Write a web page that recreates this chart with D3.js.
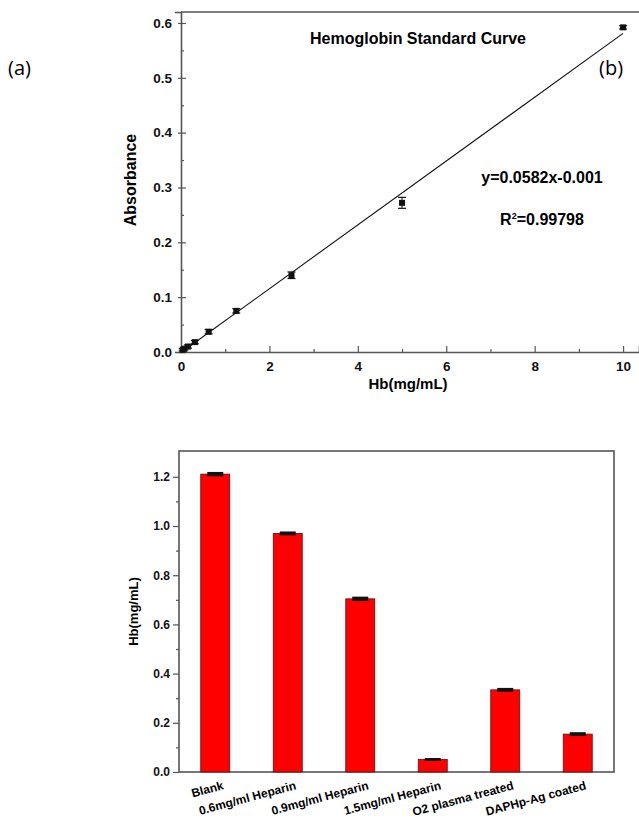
<!DOCTYPE html>
<html>
<head>
<meta charset="utf-8">
<script src="https://cdn.jsdelivr.net/npm/d3@7"></script>
<style>
  body { margin: 0; background: #fff; }
  svg { display: block; }
  text { font-family: "Liberation Sans", Arial, sans-serif; }
</style>
</head>
<body>
<div id="chart"></div>
<script>
// standard curve data
const concentrations = [0.039, 0.078, 0.156, 0.3125, 0.625, 1.25, 2.5, 5, 10];
const absorbance = [0.004, 0.006, 0.010, 0.018, 0.037, 0.075, 0.140, 0.272, 0.592];
const absError = [0.002, 0.002, 0.003, 0.003, 0.004, 0.004, 0.006, 0.010, 0.003];
const fitSlope = 0.0582, fitIntercept = -0.001;
const xTicks1 = [0, 2, 4, 6, 8, 10];
const yTicks1 = [0.0, 0.1, 0.2, 0.3, 0.4, 0.5, 0.6];

// bar chart data
const samples = ["Blank", "0.6mg/ml Heparin", "0.9mg/ml Heparin", "1.5mg/ml Heparin", "O2 plasma treated", "DAPHp-Ag coated"];
const hbValues = [1.211, 0.970, 0.704, 0.051, 0.334, 0.154];
const hbError = [0.004, 0.003, 0.004, 0.001, 0.003, 0.003];
const yTicks2 = [0.0, 0.2, 0.4, 0.6, 0.8, 1.0, 1.2];

const W = 639, H = 825;
const axisCol = "#555";
const svg = d3.select("#chart").append("svg").attr("width", W).attr("height", H);

// panel labels
svg.append("text").attr("x", 8).attr("y", 75).text("(a)")
    .style("font-family", "'Open Sans', Lato, sans-serif").style("font-size", "20px");
svg.append("text").attr("x", 599).attr("y", 75).text("(b)")
    .style("font-family", "'Open Sans', Lato, sans-serif").style("font-size", "20px");

//graphe 1 : standard curve
const p1 = { left: 181, top: 12, right: 639, bottom: 352 };
const x1 = d3.scaleLinear().domain([0, 10.36]).range([p1.left, p1.right]);
const y1 = d3.scaleLinear().domain([0, 0.62]).range([p1.bottom, p1.top]);

const g1 = svg.append("g");

// minor ticks
g1.append("g").attr("transform", `translate(0,${p1.bottom})`)
    .call(d3.axisBottom(x1).tickValues([1, 3, 5, 7, 9]).tickSize(-3).tickFormat(""))
    .call((g) => g.select(".domain").remove());
g1.append("g").attr("transform", `translate(${p1.left},0)`)
    .call(d3.axisLeft(y1).tickValues([0.05, 0.15, 0.25, 0.35, 0.45, 0.55]).tickSize(-3).tickFormat(""))
    .call((g) => g.select(".domain").remove());

const xAxis1 = g1.append("g").attr("transform", `translate(0,${p1.bottom})`)
    .call(d3.axisBottom(x1).tickValues(xTicks1).tickSize(-6).tickPadding(9).tickFormat(d3.format("d")));
const yAxis1 = g1.append("g").attr("transform", `translate(${p1.left},0)`)
    .call(d3.axisLeft(y1).tickValues(yTicks1).tickSize(6).tickPadding(3).tickFormat(d3.format(".1f")));
yAxis1.selectAll(".tick line").attr("x2", 5).attr("x1", -3);

g1.selectAll(".domain").attr("stroke", axisCol).attr("stroke-width", 1.6);
g1.selectAll(".tick line").attr("stroke", axisCol).attr("stroke-width", 1.2);
g1.selectAll(".tick text").style("font-size", "13.5px").style("font-weight", "bold").attr("fill", "#111");

// top frame line
g1.append("line").attr("x1", p1.left).attr("x2", p1.right).attr("y1", p1.top).attr("y2", p1.top)
    .attr("stroke", axisCol).attr("stroke-width", 1.6);

// fitted line
const fitX = [0.05, 10];
g1.append("line")
    .attr("x1", x1(fitX[0])).attr("y1", y1(fitSlope * fitX[0] + fitIntercept))
    .attr("x2", x1(fitX[1])).attr("y2", y1(fitSlope * fitX[1] + fitIntercept))
    .attr("stroke", "#111").attr("stroke-width", 1.1);

// points with error bars
const pts = concentrations.map((c, i) => ({ x: c, y: absorbance[i], e: absError[i] }));
const pg = g1.selectAll(".pt").data(pts).enter().append("g").attr("class", "pt");
pg.append("line").attr("x1", (d) => x1(d.x)).attr("x2", (d) => x1(d.x))
    .attr("y1", (d) => y1(d.y - d.e)).attr("y2", (d) => y1(d.y + d.e)).attr("stroke", "#111");
pg.append("line").attr("x1", (d) => x1(d.x) - 4).attr("x2", (d) => x1(d.x) + 4)
    .attr("y1", (d) => y1(d.y + d.e)).attr("y2", (d) => y1(d.y + d.e)).attr("stroke", "#111").attr("stroke-width", 1.2);
pg.append("line").attr("x1", (d) => x1(d.x) - 4).attr("x2", (d) => x1(d.x) + 4)
    .attr("y1", (d) => y1(d.y - d.e)).attr("y2", (d) => y1(d.y - d.e)).attr("stroke", "#111").attr("stroke-width", 1.2);
pg.append("rect").attr("x", (d) => x1(d.x) - 3).attr("y", (d) => y1(d.y) - 3)
    .attr("width", 6).attr("height", 6).attr("fill", "#111");

// texts
g1.append("text").attr("x", 418).attr("y", 44).attr("text-anchor", "middle")
    .style("font-size", "16px").style("font-weight", "bold").text("Hemoglobin Standard Curve");
g1.append("text").attr("x", 542).attr("y", 183).attr("text-anchor", "middle")
    .style("font-size", "16px").style("font-weight", "bold").text("y=0.0582x-0.001");
const r2 = g1.append("text").attr("x", 542).attr("y", 225).attr("text-anchor", "middle")
    .style("font-size", "16px").style("font-weight", "bold");
r2.append("tspan").text("R");
r2.append("tspan").attr("dy", -6).style("font-size", "9px").text("2");
r2.append("tspan").attr("dy", 6).text("=0.99798");
g1.append("text").attr("x", 408).attr("y", 389).attr("text-anchor", "middle")
    .style("font-size", "15px").style("font-weight", "bold").text("Hb(mg/mL)");
g1.append("text").attr("transform", `translate(136,${(p1.top + p1.bottom) / 2 - 2}) rotate(-90)`)
    .attr("text-anchor", "middle").style("font-size", "16px").style("font-weight", "bold").text("Absorbance");

//graphe 2 : bars
const p2 = { left: 179, top: 451, right: 614, bottom: 772 };
const x2 = d3.scaleBand().domain(samples).range([p2.left, p2.right]).paddingInner(0.6).paddingOuter(0.3);
const y2 = d3.scaleLinear().domain([0, 1.305]).range([p2.bottom, p2.top]);
const g2 = svg.append("g");

g2.append("rect").attr("x", p2.left).attr("y", p2.top)
    .attr("width", p2.right - p2.left).attr("height", p2.bottom - p2.top)
    .attr("fill", "none").attr("stroke", axisCol).attr("stroke-width", 1.6);

g2.append("g").attr("transform", `translate(${p2.left},0)`)
    .call(d3.axisLeft(y2).tickValues([0.1, 0.3, 0.5, 0.7, 0.9, 1.1]).tickSize(3).tickFormat(""))
    .call((g) => g.select(".domain").remove());
const yAxis2 = g2.append("g").attr("transform", `translate(${p2.left},0)`)
    .call(d3.axisLeft(y2).tickValues(yTicks2).tickSize(6).tickPadding(3).tickFormat(d3.format(".1f")));
yAxis2.select(".domain").remove();
g2.selectAll(".tick line").attr("stroke", axisCol).attr("stroke-width", 1.2);
g2.selectAll(".tick text").style("font-size", "12px").style("font-weight", "bold").attr("fill", "#111");

const bars = samples.map((s, i) => ({ s: s, v: hbValues[i], e: hbError[i] }));
g2.selectAll(".bar").data(bars).enter().append("rect").attr("class", "bar")
    .attr("x", (d) => x2(d.s)).attr("y", (d) => y2(d.v))
    .attr("width", x2.bandwidth()).attr("height", (d) => y2(0) - y2(d.v))
    .attr("fill", "#ff0000").attr("stroke", "#5a1010").attr("stroke-width", 0.8);

const cx = (d) => x2(d.s) + x2.bandwidth() / 2;
g2.selectAll(".err").data(bars).enter().append("rect").attr("class", "err")
    .attr("x", (d) => cx(d) - 8).attr("width", 16)
    .attr("y", (d) => y2(d.v + d.e) - 1.2)
    .attr("height", (d) => y2(d.v - d.e) - y2(d.v + d.e) + 2.4)
    .attr("fill", "#111");

g2.selectAll(".lab").data(bars).enter().append("text").attr("class", "lab")
    .attr("transform", (d) => `translate(${cx(d) + 9},${p2.bottom + 17}) rotate(-15)`)
    .attr("text-anchor", "end").style("font-size", "12px").style("font-weight", "bold")
    .text((d) => d.s);

g2.append("text").attr("transform", `translate(138,${(p2.top + p2.bottom) / 2}) rotate(-90)`)
    .attr("text-anchor", "middle").style("font-size", "13px").style("font-weight", "bold").text("Hb(mg/mL)");
</script>
</body>
</html>
